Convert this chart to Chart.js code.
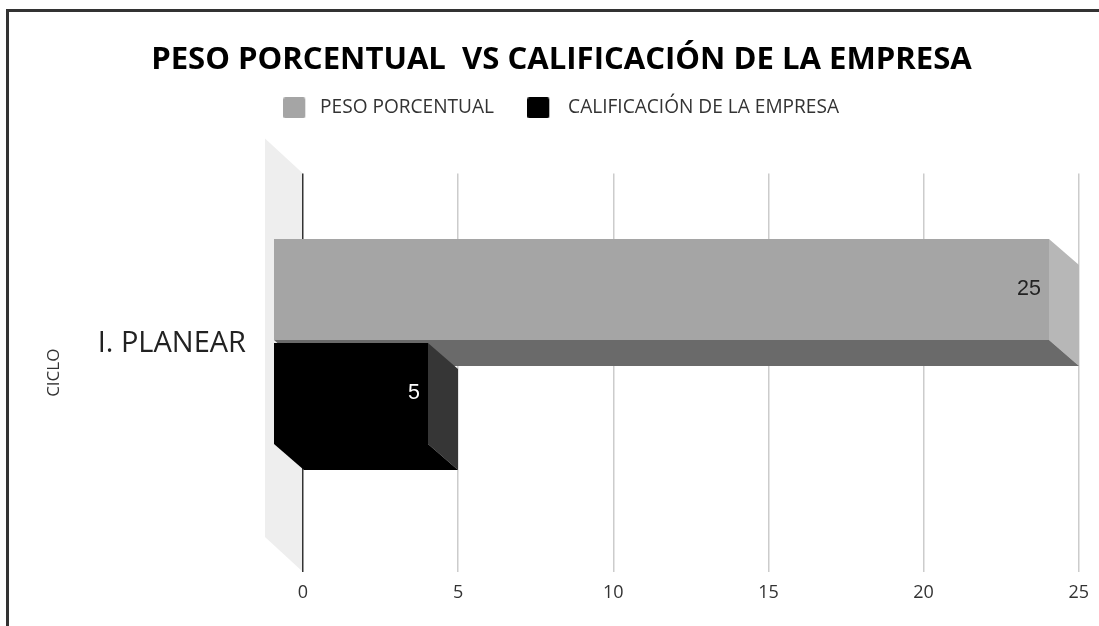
<!DOCTYPE html>
<html>
<head>
<meta charset="utf-8">
<title>Peso porcentual vs calificación</title>
<script src="https://cdn.jsdelivr.net/npm/chart.js@4"></script>
<style>
    html, body { margin: 0; padding: 0; background: #fff; overflow: hidden; }
    #wrap { position: relative; width: 1099px; height: 626px; overflow: hidden; }
    #frame { position: absolute; left: 6px; top: 9px; width: 1200px; height: 800px; border-left: 3px solid #333; border-top: 3px solid #333; box-sizing: border-box; }
    #chart_box { position: absolute; left: 0; top: 0; }
</style>
</head>
<body>
<div id="wrap">
    <div id="frame"></div>
    <canvas id="chart_box" width="1099" height="626"></canvas>
</div>
<script>
const categories = ['I. PLANEAR'];
const peso_values = [25];
const calificacion_values = [5];
const series_names = ['PESO PORCENTUAL', 'CALIFICACIÓN DE LA EMPRESA'];
const x_ticks = [0, 5, 10, 15, 20, 25];

const font_name = '"Open Sans", sans-serif';
const depth_x = 30;
const depth_y = 26;
const nudge_y = -5; // bars sit a little above the middle of the plot

// colours for the 3d faces of every series
const face_colors = [
    { front: '#a5a5a5', side: '#b7b7b7', under: '#6a6a6a', label: '#222222' },
    { front: '#000000', side: '#363636', under: '#000000', label: '#ffffff' }
];
const swatch_widths = [28, 36];

// legend swatch, canvas is wider than the box so it sits left of the point style centre
function make_swatch(color, width) {
    let c = document.createElement('canvas');
    c.width = width;
    c.height = 21;
    let g = c.getContext('2d');
    g.fillStyle = color;
    g.beginPath();
    g.roundRect(0, 0, 22, 21, 2);
    g.fill();
    return c;
}

function poly(ctx, color, pts) {
    ctx.fillStyle = color;
    ctx.beginPath();
    pts.forEach(function (p, i) {
        if (i === 0) ctx.moveTo(p[0], p[1]);
        else ctx.lineTo(p[0], p[1]);
    });
    ctx.closePath();
    ctx.fill();
}

const bars3d = {
    id: 'bars3d',
    // extra room under the legend
    beforeInit(chart) {
        const orig_fit = chart.legend.fit;
        chart.legend.fit = function () {
            orig_fit.bind(chart.legend)();
            this.height += 46;
        };
    },
    // pale wall on the left of the plot
    beforeDraw(chart) {
        let a = chart.chartArea;
        poly(chart.ctx, '#eeeeee', [
            [a.left - 38, a.top - 35],
            [a.left, a.top],
            [a.left, a.bottom],
            [a.left - 38, a.bottom - 35]
        ]);
    },
    // no flat bars, they are drawn below
    beforeDatasetDraw() {
        return false;
    },
    // the library's own bar gives the back face, the rest is extruded from it
    afterDatasetsDraw(chart) {
        let ctx = chart.ctx;
        chart.data.datasets.forEach(function (ds, d) {
            let faces = face_colors[d];
            chart.getDatasetMeta(d).data.forEach(function (bar, i) {
                let p = bar.getProps(['x', 'y', 'base', 'height']);
                let x1 = Math.round(p.x);
                let x0 = Math.round(p.base);
                let y0 = Math.round(p.y - p.height / 2 + nudge_y);
                let y1 = Math.round(p.y + p.height / 2 + nudge_y);
                let fx0 = x0 - depth_x, fx1 = x1 - depth_x, fy0 = y0 - depth_y, fy1 = y1 - depth_y;
                poly(ctx, faces.side, [[fx1, fy0], [x1, y0], [x1, y1], [fx1, fy1]]);
                poly(ctx, faces.under, [[fx0, fy1], [fx1, fy1], [x1, y1], [x0, y1]]);
                poly(ctx, faces.front, [[fx0, fy0], [fx1, fy0], [fx1, fy1], [fx0, fy1]]);
                ctx.save();
                ctx.fillStyle = faces.label;
                ctx.font = '21.5px "Liberation Sans", sans-serif';
                ctx.textAlign = 'right';
                ctx.textBaseline = 'middle';
                ctx.fillText(ds.data[i], fx1 - 8, (fy0 + fy1) / 2);
                ctx.restore();
            });
        });
    }
};

let ctx = document.getElementById('chart_box').getContext('2d');
const myChart = new Chart(ctx, {
    type: 'bar',
    data: {
        labels: categories,
        datasets: [
            { label: series_names[0], data: peso_values, backgroundColor: face_colors[0].front },
            { label: series_names[1], data: calificacion_values, backgroundColor: face_colors[1].front }
        ]
    },
    plugins: [bars3d],
    options: {
        indexAxis: 'y',
        responsive: false,
        animation: false,
        devicePixelRatio: 1,
        categoryPercentage: 0.521,
        barPercentage: 0.971,
        layout: { autoPadding: false, padding: { left: 44, right: 20, top: 0, bottom: 0 } },
        plugins: {
            title: {
                display: true,
                text: 'PESO PORCENTUAL  VS CALIFICACIÓN DE LA EMPRESA',
                color: '#000000',
                font: { family: font_name, size: 31.1, weight: 'bold' },
                padding: { top: 41, bottom: -18 }
            },
            legend: {
                display: true,
                position: 'top',
                labels: {
                    usePointStyle: true,
                    pointStyleWidth: 26.5,
                    color: '#333333',
                    padding: 38,
                    font: { family: font_name, size: 19.1 },
                    generateLabels(chart) {
                        let items = Chart.defaults.plugins.legend.labels.generateLabels(chart);
                        items.forEach(function (it, i) {
                            it.pointStyle = make_swatch(face_colors[i].front, swatch_widths[i]);
                        });
                        return items;
                    }
                }
            },
            tooltip: { enabled: false }
        },
        scales: {
            x: {
                min: 0,
                max: 25,
                afterBuildTicks(scale) {
                    scale.ticks = x_ticks.map(v => ({ value: v }));
                },
                afterFit(scale) { scale.height = 54; },
                border: { display: false },
                grid: {
                    drawTicks: false,
                    lineWidth: 1.5,
                    color: c => (c.tick && c.tick.value === 0) ? '#333333' : '#cccccc'
                },
                ticks: {
                    padding: 10,
                    color: '#333333',
                    font: { family: font_name, size: 18 }
                }
            },
            y: {
                afterFit(scale) { scale.width = 259; },
                border: { display: false },
                // ticks.padding eats the plot height on a y axis, an invisible tick mark does not
                grid: { drawOnChartArea: false, drawTicks: true, tickLength: 57, tickColor: 'transparent' },
                ticks: {
                    padding: 0,
                    labelOffset: -29,
                    color: '#222222',
                    font: { family: font_name, size: 29 }
                },
                title: {
                    display: true,
                    text: 'CICLO',
                    color: '#333333',
                    padding: 0,
                    font: { family: font_name, size: 17 }
                }
            }
        }
    }
});
</script>
</body>
</html>
